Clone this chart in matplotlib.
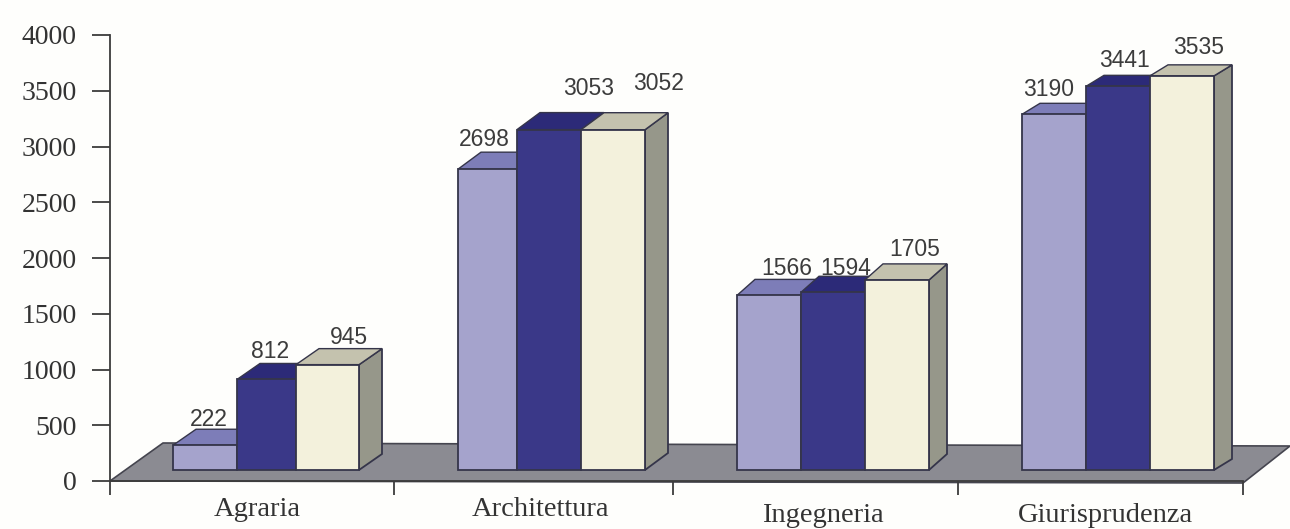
import numpy as np
import matplotlib
matplotlib.use("Agg")
import matplotlib.pyplot as plt
from matplotlib.patches import Polygon

categories = ["Agraria", "Architettura", "Ingegneria", "Giurisprudenza"]
serie_1 = [222, 2698, 1566, 3190]
serie_2 = [812, 3053, 1594, 3441]
serie_3 = [945, 3052, 1705, 3535]
y_ticks = [0, 500, 1000, 1500, 2000, 2500, 3000, 3500, 4000]

# layout, in pixels of the 1290x529 picture
W, H = 1290, 529
y0_px, y4000_px = 481, 35
scale = (y0_px - y4000_px) / 4000.0   # px per unit
group_left = [173, 458, 737, 1022]
bar_w = [[64, 59, 63], [59, 64, 64], [64, 64, 64], [64, 64, 64]]
depth_x = [23, 23, 18, 18]
depth_y = [16, 17, 16, 11]
base = 11 / scale    # bars stand a little above the axis on the floor

colors = ["#a5a3cc", "#3a3888", "#f3f1dc"]
top_colors = ["#7d7db8", "#2c2a78", "#c4c2ae"]
side_color = "#96978a"
edge = "#35354a"

fig = plt.figure(figsize=(W / 100, H / 100), dpi=100, facecolor="#fefefc")
ax = fig.add_axes([0, 0, 1, 1], facecolor="none")
ax.set_xlim(0, W)
ax.set_ylim(-(H - y0_px) / scale, y0_px / scale)

# floor
floor = Polygon([(110, 0), (163, 38 / scale), (W, 35 / scale), (1243, -2 / scale)],
                closed=True, fc="#8b8b92", ec="#45454f", lw=1.2, zorder=1)
ax.add_patch(floor)

series = [serie_1, serie_2, serie_3]
for g in range(len(categories)):
    dx = depth_x[g]
    dy = depth_y[g] / scale
    lefts = group_left[g] + np.concatenate([[0], np.cumsum(bar_w[g])[:-1]])
    # right side of the last bar first, then tops from back to front
    x_end = lefts[2] + bar_w[g][2]
    v = series[2][g]
    ax.add_patch(Polygon([(x_end, base), (x_end + dx, base + dy),
                          (x_end + dx, base + v + dy), (x_end, base + v)],
                         closed=True, fc=side_color, ec=edge, lw=1.3, zorder=2))
    for i in range(3):
        v = series[i][g]
        ax.add_patch(Polygon([(lefts[i], base + v), (lefts[i] + dx, base + v + dy),
                              (lefts[i] + bar_w[g][i] + dx, base + v + dy),
                              (lefts[i] + bar_w[g][i], base + v)],
                             closed=True, fc=top_colors[i], ec=edge, lw=1.0,
                             zorder=2 + i * 0.1))
    for i in range(3):
        ax.bar(lefts[i], series[i][g], width=bar_w[g][i], bottom=base, align="edge",
               color=colors[i], edgecolor=edge, lw=1.3, zorder=3 + i * 0.1)

# value labels
label_dx = [[36, 33, 53], [26, 72, 78], [50, 45, 50], [27, 38, 49]]
label_dy = [[26, 28, 27], [30, 41, 46], [27, 24, 30], [25, 26, 28]]
for g in range(len(categories)):
    lefts = group_left[g] + np.concatenate([[0], np.cumsum(bar_w[g])[:-1]])
    for i in range(3):
        v = series[i][g]
        ax.text(lefts[i] + label_dx[g][i], base + v + label_dy[g][i] / scale, str(v),
                ha="center", va="center", fontsize=16.5, color="#3c3c3c",
                family="Liberation Sans", zorder=6)

# axes
for s in ["top", "right"]:
    ax.spines[s].set_visible(False)
ax.spines["left"].set_position(("data", 110))
ax.spines["left"].set_bounds(0, 4000)
ax.spines["bottom"].set_position(("data", 0))
ax.spines["bottom"].set_bounds(110, 1243)
for s in ["left", "bottom"]:
    ax.spines[s].set_color("#3c3c3c")
    ax.spines[s].set_linewidth(1.3)
    ax.spines[s].set_zorder(5)

ax.set_yticks(y_ticks)
ax.set_yticklabels([str(t) for t in y_ticks], family="Liberation Serif", fontsize=20, color="#333333")
ax.tick_params(axis="y", direction="out", length=13, width=1.3, color="#3c3c3c", pad=11)
ax.set_xticks([110, 394, 673, 958, 1243])
ax.set_xticklabels([])
ax.tick_params(axis="x", direction="out", length=10, width=1.3, color="#3c3c3c")

label_x = [257, 540, 823, 1105]
label_y = [510, 509, 516, 516]
for name, lx, ly in zip(categories, label_x, label_y):
    ax.text(lx, (y0_px - ly) / scale, name, ha="center", va="center",
            fontsize=20.5, color="#333333", family="Liberation Serif")

fig.savefig("out.png", dpi=100, facecolor=fig.get_facecolor())
